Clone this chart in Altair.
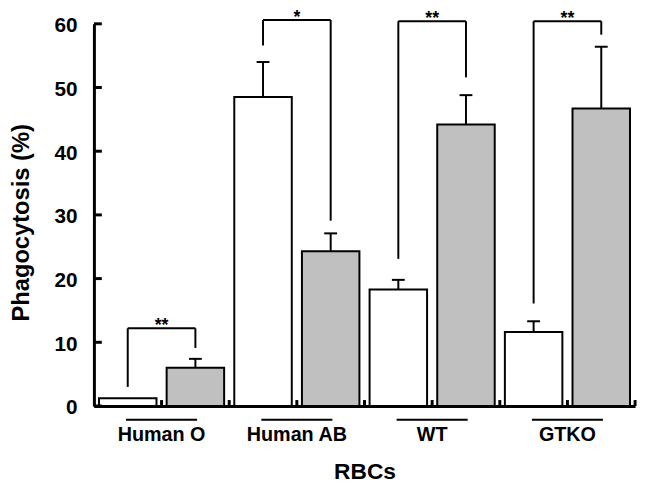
import altair as alt
import pandas as pd

# ---- data ----
groups = ["Human O", "Human AB", "WT", "GTKO"]
white_mean = [1.2, 48.5, 18.3, 11.6]
white_err = [0.0, 5.5, 1.5, 1.7]
gray_mean = [6.0, 24.3, 44.2, 46.7]
gray_err = [1.4, 2.8, 4.6, 9.7]
sig_label = ["**", "*", "**", "**"]
sig_top = [12.2, 60.6, 60.4, 60.4]
sig_left_end = [3.0, 56.6, 23.1, 16.1]
sig_right_end = [9.1, 29.1, 51.6, 58.3]
y_ticks = [0, 10, 20, 30, 40, 50, 60]

# ---- layout / style ----
FONT = "Liberation Sans"
W, H = 548, 387
BAR_PAD = 0.075
CAP_HALF = 0.095
UL_HALF = 0.525
GRAY = "#c0c0c0"

xs = alt.Scale(domain=[0, 8], nice=False, zero=False)
ys = alt.Scale(domain=[0, 60], nice=False, zero=True)


def X(f):
    return alt.X(f"{f}:Q", scale=xs, title="RBCs", axis=alt.Axis(labels=False, ticks=False))


def Y(f):
    return alt.Y(f"{f}:Q", scale=ys, title="Phagocytosis (%)", axis=alt.Axis(values=y_ticks))


rows = []
for g, name in enumerate(groups):
    for j, (cond, m, e) in enumerate(
        [("white", white_mean[g], white_err[g]), ("gray", gray_mean[g], gray_err[g])]
    ):
        slot = 2 * g + j
        rows.append(dict(group=name, cond=cond, mean=m, base=0, err=e, err_top=m + e,
                         x0=slot + BAR_PAD, x1=slot + 1 - BAR_PAD, xc=slot + 0.5,
                         cl=slot + 0.5 - CAP_HALF, cr=slot + 0.5 + CAP_HALF))
bars_df = pd.DataFrame(rows)

sig_df = pd.DataFrame(dict(
    group=groups, label=sig_label, top=sig_top, lb=sig_left_end, rb=sig_right_end,
    wc=[2 * g + 0.5 for g in range(4)], gc=[2 * g + 1.5 for g in range(4)],
    mid=[2 * g + 1 for g in range(4)],
    ul0=[2 * g + 1 - UL_HALF for g in range(4)], ul1=[2 * g + 1 + UL_HALF for g in range(4)],
))
xtick_df = pd.DataFrame(dict(k=list(range(1, 9))))
ytick_df = pd.DataFrame(dict(v=y_ticks))

base = alt.Chart(bars_df)
bars = base.mark_bar(stroke="black", strokeWidth=2).encode(
    x=X("x0"), x2="x1", y=Y("mean"), y2="base",
    fill=alt.Fill("cond:N", scale=alt.Scale(domain=["white", "gray"], range=["white", GRAY]), legend=None),
)
err_line = base.transform_filter("datum.err > 0").mark_rule(strokeWidth=2, color="black").encode(
    x=X("xc"), y=Y("mean"), y2="err_top")
err_cap = base.transform_filter("datum.err > 0").mark_rule(strokeWidth=2, color="black").encode(
    x=X("cl"), x2="cr", y=Y("err_top"))

sb = alt.Chart(sig_df)
br_left = sb.mark_rule(strokeWidth=2, color="black").encode(x=X("wc"), y=Y("lb"), y2="top")
br_right = sb.mark_rule(strokeWidth=2, color="black").encode(x=X("gc"), y=Y("rb"), y2="top")
br_top = sb.mark_rule(strokeWidth=2, color="black").encode(x=X("wc"), x2="gc", y=Y("top"))
stars = sb.mark_text(font=FONT, fontSize=18, fontWeight="bold", baseline="alphabetic", dy=3,
                     color="black").encode(x=X("mid"), y=Y("top"), text="label:N")
underline = sb.mark_rule(strokeWidth=2, color="black").encode(
    x=X("ul0"), x2="ul1", y=alt.value(401))
glabels = sb.mark_text(font=FONT, fontSize=20, fontWeight="bold", baseline="alphabetic",
                       color="black").encode(x=X("mid"), y=alt.value(422), text="group:N")

xticks = alt.Chart(xtick_df).mark_rule(strokeWidth=3, color="black").encode(
    x=X("k"), y=alt.value(H), y2=alt.value(H - 6))
yticks = alt.Chart(ytick_df).mark_rule(strokeWidth=3, color="black").encode(
    y=Y("v"), x=alt.value(0), x2=alt.value(8))

chart = alt.layer(
    bars, err_line, err_cap, br_left, br_right, br_top, stars, underline, glabels, xticks, yticks
).properties(
    width=W, height=H,
    autosize=alt.AutoSizeParams(type="none"),
    padding={"left": 87, "top": 13, "right": 7, "bottom": 77},
).configure_view(stroke=None).configure_axis(
    grid=False, domainColor="black", domainWidth=3, labelColor="black", titleColor="black",
    labelFont=FONT, titleFont=FONT,
).configure_axisX(
    titleFontSize=23, titleFontWeight="bold", titleBaseline="alphabetic", titleY=73,
).configure_axisY(
    ticks=False, tickSize=0, labelFontSize=21, labelFontWeight="bold", labelPadding=17,
    labelOffset=2, titleFontSize=24, titleFontWeight="bold", titleBaseline="alphabetic",
    titleX=-66, titleY=201,
)

chart.save("out.html", embed_options={"renderer": "svg", "actions": False})
